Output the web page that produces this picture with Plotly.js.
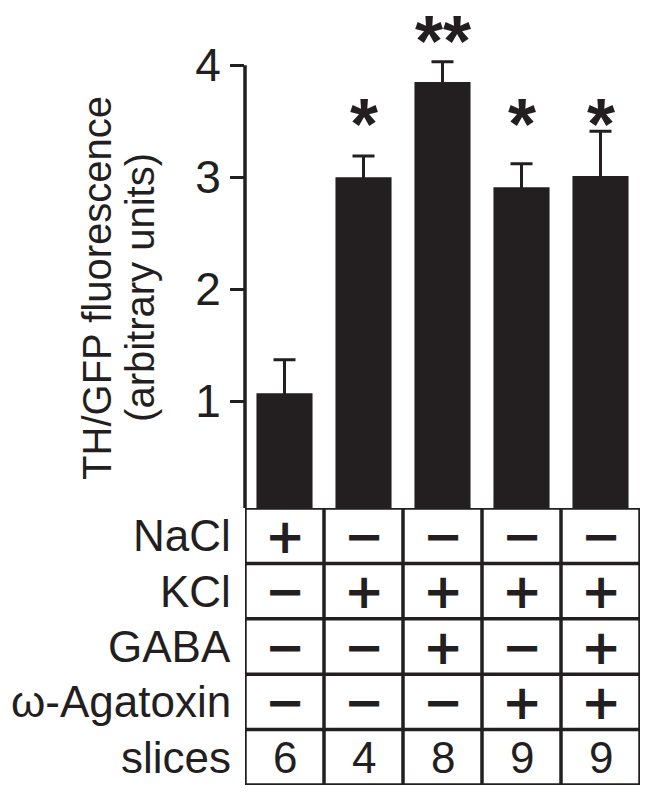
<!DOCTYPE html>
<html>
<head>
<meta charset="utf-8">
<script src="https://cdn.plot.ly/plotly-3.0.1.min.js"></script>
<style>
  html, body { margin: 0; padding: 0; background: #fff; }
  #chart { width: 658px; height: 804px; }
</style>
</head>
<body>
<div id="chart"></div>
<script>
// bar groups (one per table column)
const groups = ['NaCl', 'KCl', 'KCl+GABA', 'KCl+Aga', 'KCl+GABA+Aga'];
const fluorescence = [1.07, 3.0, 3.85, 2.91, 3.01];
const errorUp = [0.30, 0.19, 0.18, 0.21, 0.40];
const significance = ['', '*', '**', '*', '*'];

// treatment table under the bars
const rowLabels = ['NaCl', 'KCl', 'GABA', 'ω-Agatoxin', 'slices'];
const naclRow = ['+', '−', '−', '−', '−'];
const kclRow = ['−', '+', '+', '+', '+'];
const gabaRow = ['−', '−', '+', '−', '+'];
const agatoxinRow = ['−', '−', '−', '+', '+'];
const slicesRow = [6, 4, 8, 9, 9];

const yTicks = [1, 2, 3, 4];
const yTitleLines = ['TH/GFP fluorescence', '(arbitrary units)'];

const ink = '#231f20';
const fontFamily = 'Liberation Sans, Arial, Helvetica, sans-serif';
// DejaVu has wide +/− glyphs, so they fit the cells at a smaller size
const signFont = 'DejaVu Sans, Liberation Sans, sans-serif';

const barTrace = {
    x: groups,
    y: fluorescence,
    type: 'bar',
    width: 0.71,
    marker: { color: ink, line: { width: 0 } },
    // lower half of the whisker is hidden inside the bar
    error_y: {
        type: 'data',
        symmetric: true,
        array: errorUp,
        color: ink,
        thickness: 3,
        width: 11
    },
    hoverinfo: 'none'
};

const shapes = [];
const annotations = [];

// y axis line, from the bottom of the plot up to the top tick
shapes.push({
    type: 'line', xref: 'paper', yref: 'y',
    x0: 0, x1: 0, y0: 0.045, y1: yTicks[yTicks.length - 1],
    line: { color: ink, width: 3.5 }
});

// table grid
for (let r = 0; r <= rowLabels.length; r++) {
    shapes.push({
        type: 'line', xref: 'x', yref: 'y2',
        x0: -0.5, x1: groups.length - 0.5, y0: r, y1: r,
        line: { color: ink, width: 3.5 }
    });
}
for (let c = 0; c <= groups.length; c++) {
    shapes.push({
        type: 'line', xref: 'x', yref: 'y2',
        x0: c - 0.5, x1: c - 0.5, y0: 0, y1: rowLabels.length,
        line: { color: ink, width: 3.5 }
    });
}

// row labels
for (let r = 0; r < rowLabels.length; r++) {
    annotations.push({
        xref: 'paper', yref: 'y2', x: 0, y: r + 0.5,
        xanchor: 'right', yanchor: 'middle', xshift: -12,
        text: rowLabels[r], showarrow: false,
        font: { family: fontFamily, size: 44, color: ink }
    });
}

// +/- cells
const signRows = [naclRow, kclRow, gabaRow, agatoxinRow];
for (let r = 0; r < signRows.length; r++) {
    for (let c = 0; c < groups.length; c++) {
        annotations.push({
            xref: 'x', yref: 'y2', x: groups[c], y: r + 0.5,
            xanchor: 'center', yanchor: 'middle',
            text: signRows[r][c], showarrow: false,
            font: { family: signFont, size: 48, color: ink, weight: 'bold' }
        });
    }
}

// number of slices
for (let c = 0; c < groups.length; c++) {
    annotations.push({
        xref: 'x', yref: 'y2', x: groups[c], y: signRows.length + 0.5,
        xanchor: 'center', yanchor: 'middle',
        text: String(slicesRow[c]), showarrow: false,
        font: { family: fontFamily, size: 44, color: ink }
    });
}

// significance stars (paper y so the ** above the axis top is not hidden)
for (let c = 0; c < groups.length; c++) {
    if (!significance[c]) continue;
    annotations.push({
        xref: 'x', yref: 'paper', x: groups[c],
        y: significance[c].length > 1 ? 1.0178 : 0.9042,
        xanchor: 'center', yanchor: 'middle',
        text: significance[c], showarrow: false,
        font: { family: fontFamily, size: 72, color: ink, weight: 'bold' }
    });
}

// two-line y axis title
const titleX = [-0.3747, -0.2658];
for (let i = 0; i < yTitleLines.length; i++) {
    annotations.push({
        xref: 'paper', yref: 'paper', x: titleX[i], y: 0.68,
        xanchor: 'center', yanchor: 'middle', textangle: -90,
        text: yTitleLines[i], showarrow: false,
        font: { family: fontFamily, size: 40, color: ink }
    });
}

const layout = {
    width: 658,
    height: 804,
    margin: { l: 245, r: 18, t: 54, b: 19 },
    paper_bgcolor: '#fff',
    plot_bgcolor: 'rgba(0,0,0,0)',
    showlegend: false,
    font: { family: fontFamily, color: ink },
    xaxis: {
        type: 'category',
        range: [-0.5, groups.length - 0.5],
        showticklabels: false,
        showline: false,
        showgrid: false,
        zeroline: false,
        ticks: ''
    },
    yaxis: {
        domain: [277 / 731, 1],
        range: [0.045, 4.1],
        tickvals: yTicks,
        ticktext: yTicks.map(String),
        ticks: 'outside',
        ticklen: 14,
        tickwidth: 3,
        tickcolor: ink,
        tickfont: { family: fontFamily, size: 46, color: ink },
        showline: false,
        showgrid: false,
        zeroline: false
    },
    yaxis2: {
        domain: [0, 277 / 731],
        range: [rowLabels.length, 0],
        anchor: 'x',
        visible: false
    },
    shapes: shapes,
    annotations: annotations
};

Plotly.newPlot('chart', [barTrace], layout, { staticPlot: true, displayModeBar: false });
</script>
</body>
</html>
